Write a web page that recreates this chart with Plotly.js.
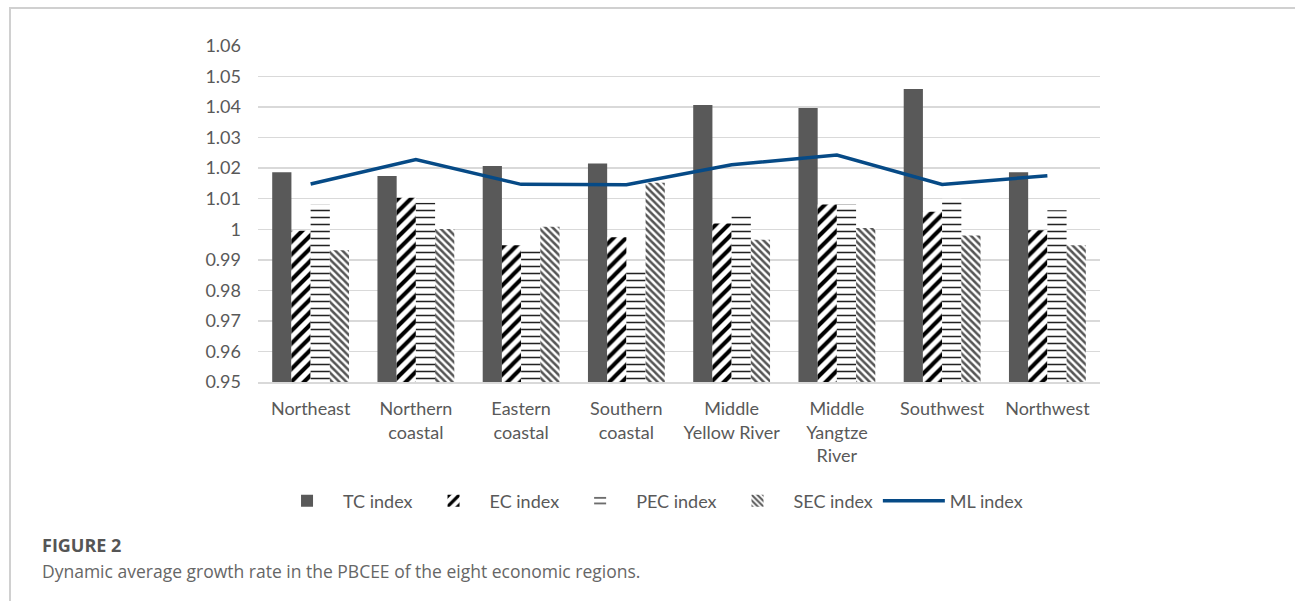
<!DOCTYPE html>
<html>
<head>
<meta charset="utf-8">
<script src="https://cdn.plot.ly/plotly-3.0.1.min.js"></script>
<style>
  html, body { margin: 0; padding: 0; background: #fff; }
  #frame { position: absolute; left: 9px; top: 7px; width: 1284px; height: 600px;
           border-top: 2px solid #d0d0d0; border-left: 2px solid #d0d0d0; border-right: 2px solid #d0d0d0; }
  #chart { position: absolute; left: 0; top: 0; width: 1295px; height: 601px; }
</style>
</head>
<body>
<div id="frame"></div>
<div id="chart"></div>
<script>
const regions = ["Northeast", "Northern<br>coastal", "Eastern<br>coastal", "Southern<br>coastal",
                 "Middle<br>Yellow River", "Middle<br>Yangtze<br>River", "Southwest", "Northwest"];
const tcIndex  = [1.0187, 1.0174, 1.0207, 1.0215, 1.0407, 1.0397, 1.0459, 1.0187];
const ecIndex  = [0.9995, 1.0103, 0.9948, 0.9974, 1.0019, 1.0081, 1.0057, 0.9997];
const pecIndex = [1.0081, 1.0087, 0.9931, 0.9860, 1.0043, 1.0083, 1.0100, 1.0062];
const secIndex = [0.9931, 1.0001, 1.0008, 1.0152, 0.9966, 1.0004, 0.9980, 0.9948];
const mlIndex  = [1.0148, 1.0228, 1.0147, 1.0146, 1.0211, 1.0243, 1.0147, 1.0175];
const yTicks   = [0.95, 0.96, 0.97, 0.98, 0.99, 1, 1.01, 1.02, 1.03, 1.04, 1.05, 1.06];
const yTickText = ["0.95", "0.96", "0.97", "0.98", "0.99", "1", "1.01", "1.02", "1.03", "1.04", "1.05", "1.06"];

const txt = "#595959";
const fontFam = "Lato, 'Liberation Sans', sans-serif";

const traces = [
  { type: "bar", name: "TC index", x: regions, y: tcIndex,
    marker: { color: "#595959", line: { width: 0 } } },
  { type: "bar", name: "EC index", x: regions, y: ecIndex,
    marker: { color: "#ffffff", line: { width: 0 },
              pattern: { shape: "/", fgcolor: "#000000", bgcolor: "#ffffff", size: 9, solidity: 0.45 } } },
  { type: "bar", name: "PEC index", x: regions, y: pecIndex,
    marker: { color: "#ffffff", line: { width: 0 },
              pattern: { shape: "-", fgcolor: "#222222", bgcolor: "#ffffff", size: 7, solidity: 0.22 } } },
  { type: "bar", name: "SEC index", x: regions, y: secIndex,
    marker: { color: "#ffffff", line: { width: 0 },
              pattern: { shape: "\\", fgcolor: "#555555", bgcolor: "#ffffff", size: 5, solidity: 0.5 } } },
  { type: "scatter", mode: "lines", name: "ML index", x: regions, y: mlIndex,
    line: { color: "#064a86", width: 3.5 } }
];

const layout = {
  width: 1295, height: 601,
  margin: { l: 258, r: 195, t: 46, b: 219, pad: 0 },
  paper_bgcolor: "rgba(0,0,0,0)",
  plot_bgcolor: "rgba(0,0,0,0)",
  barmode: "group",
  bargap: 0.27,
  bargroupgap: 0,
  font: { family: fontFam, size: 18, color: txt },
  showlegend: true,
  legend: { orientation: "h", x: 0.465, xanchor: "center", y: -0.354, yanchor: "middle",
            font: { family: fontFam, size: 18, color: txt }, itemwidth: 62, traceorder: "normal" },
  xaxis: { type: "category", showgrid: false, showline: true, linecolor: "#d9d9d9", linewidth: 1.5,
           ticks: "", ticklabelstandoff: 10,
           tickfont: { family: fontFam, size: 18, color: txt }, fixedrange: true },
  yaxis: { range: [0.95, 1.06], tickvals: yTicks, ticktext: yTickText, showgrid: true,
           gridcolor: "#d9d9d9", gridwidth: 1.5, zeroline: false, showline: false, ticks: "",
           ticklabelstandoff: 16,
           tickfont: { family: fontFam, size: 18, color: txt }, fixedrange: true },
  annotations: [
    { xref: "paper", yref: "paper", x: -0.2589, y: -0.485, xanchor: "left", yanchor: "middle",
      text: "<b>FIGURE 2</b>", showarrow: false,
      font: { family: "'Open Sans', 'Noto Sans', sans-serif", size: 18, color: "#555555" } },
    { xref: "paper", yref: "paper", x: -0.2589, y: -0.5625, xanchor: "left", yanchor: "middle",
      text: "Dynamic average growth rate in the PBCEE of the eight economic regions.", showarrow: false,
      font: { family: "'Open Sans', 'Noto Sans', sans-serif", size: 17.5, color: "#666666" } }
  ]
};

Plotly.newPlot("chart", traces, layout, { displayModeBar: false, staticPlot: true });
</script>
</body>
</html>
